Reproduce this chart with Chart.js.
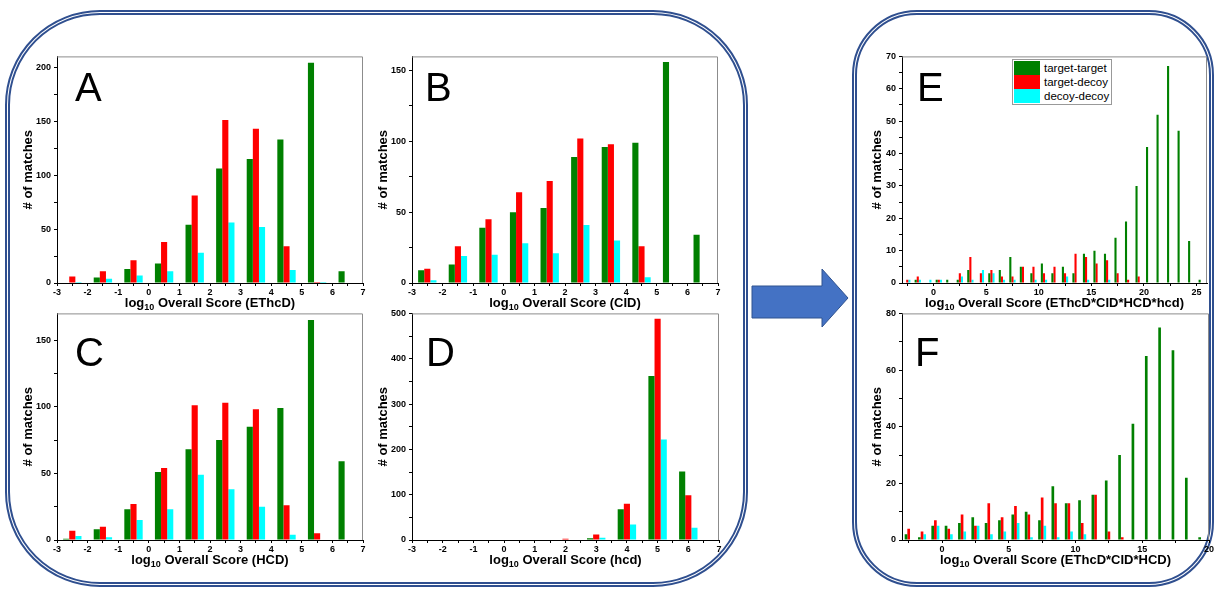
<!DOCTYPE html>
<html>
<head>
<meta charset="utf-8">
<script src="https://cdn.jsdelivr.net/npm/chart.js@4.4.1/dist/chart.umd.min.js"></script>
<style>
  body { margin: 0; background: #fff; }
  #page { position: relative; width: 1215px; height: 589px; overflow: hidden; font-family: "Liberation Sans", Arial, sans-serif; }
  .box { position: absolute; box-sizing: border-box; border: 5px double #2f4f8f; }
  canvas { position: absolute; }
  .letter { position: absolute; font-size: 40px; line-height: 40px; color: #000; }
  .xtitle { position: absolute; font-size: 13px; font-weight: bold; line-height: 14px; white-space: nowrap; transform: translateX(-50%); }
  .xtitle sub { font-size: 9px; vertical-align: -3px; }
  #legend { position: absolute; left: 1012px; top: 59px; width: 96px; border: 1px solid #999; background: #fff; padding: 1px; font-size: 11.5px; }
  #legend div { height: 14px; line-height: 14px; white-space: nowrap; }
  #legend span { display: inline-block; width: 26px; height: 14px; vertical-align: top; margin-right: 4px; }
</style>
</head>
<body>
<div id="page">
  <div class="box" style="left:5px;top:10px;width:743px;height:577px;border-radius:95px;"></div>
  <div class="box" style="left:852px;top:10px;width:362px;height:577px;border-radius:65px;"></div>
  <svg style="position:absolute;left:748px;top:262px" width="104" height="70">
    <polygon points="4,24 74,24 74,7 100,36 74,65 74,56 4,56" fill="#4472c4" stroke="#2f528f" stroke-width="1"/>
  </svg>
</div>
<script>
// bin centres
const binsAC = [-2.5, -1.5, -0.5, 0.5, 1.5, 2.5, 3.5, 4.5, 5.5, 6.5];
const binsD = [2, 3, 4, 5, 6];
const binsE = [-2.5, -1.5, -0.5, 0.5, 1.5, 2.5, 3.5, 4.5, 5.5, 6.5, 7.5, 8.5, 9.5, 10.5, 11.5, 12.5, 13.5, 14.5,
               15.5, 16.5, 17.5, 18.5, 19.5, 20.5, 21.5, 22.5, 23.5, 24.5, 25.5];
const binsF = [-2.5, -1.5, -0.5, 0.5, 1.5, 2.5, 3.5, 4.5, 5.5, 6.5, 7.5, 8.5, 9.5, 10.5, 11.5, 12.5, 13.5, 14.5,
               15.5, 16.5, 17.5, 18.5, 19.5];

// A: EThcD
const A_tt = [0, 5, 13, 18, 54, 106, 115, 133, 204, 11];
const A_td = [6, 11, 21, 38, 81, 151, 143, 34, 1, 0];
const A_dd = [1, 4, 7, 11, 28, 56, 52, 12, 1, 0];
// B: CID
const B_tt = [9, 13, 39, 50, 53, 89, 96, 99, 156, 34];
const B_td = [10, 26, 45, 64, 72, 102, 98, 26, 0, 0];
const B_dd = [2, 19, 20, 28, 21, 41, 30, 4, 0, 0];
// C: HCD
const C_tt = [1, 8, 23, 51, 68, 75, 85, 99, 165, 59];
const C_td = [7, 10, 27, 54, 101, 103, 98, 26, 5, 0];
const C_dd = [3, 2, 15, 23, 49, 38, 25, 4, 0, 0];
// D: hcd
const D_tt = [1, 4, 68, 362, 151];
const D_td = [3, 12, 80, 488, 99];
const D_dd = [0, 5, 34, 222, 27];
// E: EThcD*CID*HCD*hcd
const E_tt = [0, 1, 0, 1, 1, 1, 4, 0, 3, 4, 8, 5, 3, 6, 3, 5, 3, 9, 10, 9, 14, 19, 30, 42, 52, 67, 47, 13, 1];
const E_td = [1, 2, 0, 1, 0, 3, 8, 3, 4, 2, 2, 5, 5, 3, 5, 3, 9, 8, 6, 7, 3, 1, 2, 0, 0, 0, 0, 0, 0];
const E_dd = [1, 1, 1, 1, 0, 2, 1, 4, 3, 1, 1, 0, 1, 1, 0, 2, 0, 1, 0, 1, 0, 0, 0, 0, 0, 0, 0, 0, 0];
// F: EThcD*CID*HCD
const F_tt = [2, 1, 5, 5, 6, 8, 6, 7, 9, 10, 7, 19, 13, 14, 16, 21, 30, 41, 65, 75, 67, 22, 1];
const F_td = [4, 3, 7, 4, 9, 5, 13, 8, 12, 9, 15, 13, 13, 6, 16, 3, 1, 0, 0, 0, 0, 0, 0];
const F_dd = [0, 2, 5, 2, 3, 5, 2, 3, 6, 1, 5, 1, 3, 2, 0, 0, 0, 0, 0, 0, 0, 0, 0];

const seriesNames = ['target-target', 'target-decoy', 'decoy-decoy'];
const seriesColors = ['#008000', '#ff0000', '#00ffff'];

const framePlugin = {
    id: 'frame',
    afterDraw(chart) {
        const a = chart.chartArea, ctx = chart.ctx;
        ctx.save();
        ctx.strokeStyle = '#8c8c8c';
        ctx.lineWidth = 1;
        ctx.beginPath();
        ctx.moveTo(a.left, a.top + 0.5);
        ctx.lineTo(a.right - 0.5, a.top + 0.5);
        ctx.lineTo(a.right - 0.5, a.bottom);
        ctx.stroke();
        ctx.restore();
    }
};

function makeChart(p) {
    const page = document.getElementById('page');
    const PT = 8, PR = 10, XH = 18;
    const cv = document.createElement('canvas');
    const w = p.yw + (p.right - p.left) + PR;
    const h = PT + (p.bottom - p.top) + XH;
    cv.width = w; cv.height = h;
    cv.style.width = w + 'px'; cv.style.height = h + 'px';
    cv.style.left = (p.left - p.yw) + 'px';
    cv.style.top = (p.top - PT) + 'px';
    page.appendChild(cv);

    // chart.js sizes bars from the smallest gap between values or ticks,
    // so scale the percentage to keep each bar at 0.2 of a bin
    const gap = Math.min(p.xstep, 1);
    const datasets = p.series.map(function(vals, i) {
        return {
            label: seriesNames[i],
            data: vals.map(function(v, j) { return {x: p.bins[j], y: v}; }),
            backgroundColor: seriesColors[i],
            borderWidth: 0,
            categoryPercentage: 0.6 / gap,
            barPercentage: 1.0
        };
    });

    const tickFont = {family: '"Liberation Sans", Arial', size: 9, weight: 'bold'};
    new Chart(cv, {
        type: 'bar',
        data: {datasets: datasets},
        options: {
            responsive: false,
            animation: false,
            devicePixelRatio: 1,
            layout: {padding: {top: PT, right: PR, left: 0, bottom: 0}},
            plugins: {legend: {display: false}, tooltip: {enabled: false}},
            scales: {
                x: {
                    type: 'linear',
                    min: p.xmin, max: p.xmax,
                    offset: false,
                    grid: {display: true, offset: false, drawOnChartArea: false, drawTicks: true, tickLength: 3, color: '#000'},
                    border: {display: true, color: '#000', width: 1},
                    ticks: {
                        stepSize: p.xstep, includeBounds: false, autoSkip: false, maxRotation: 0,
                        padding: 1, color: '#000', font: tickFont,
                        callback: function(v) { return Math.abs(v / p.xmajor - Math.round(v / p.xmajor)) < 1e-6 ? v : ''; }
                    },
                    afterFit: function(s) { s.height = XH; }
                },
                y: {
                    min: 0, max: p.ymax,
                    grid: {display: true, drawOnChartArea: false, drawTicks: true, tickLength: 3, color: '#000'},
                    border: {display: true, color: '#000', width: 1},
                    ticks: {
                        stepSize: p.ystep, includeBounds: false, autoSkip: false,
                        padding: 3, color: '#000', font: tickFont,
                        callback: function(v) { return v % p.ymajor === 0 ? v : ''; }
                    },
                    title: {display: true, text: '# of matches', color: '#000', padding: {top: 2, bottom: 0},
                            font: {family: '"Liberation Sans", Arial', size: 13, weight: 'bold'}},
                    afterFit: function(s) { s.width = p.yw; }
                }
            }
        },
        plugins: [framePlugin]
    });

    const t = document.createElement('div');
    t.className = 'xtitle';
    t.innerHTML = 'log<sub>10</sub> Overall Score (' + p.xname + ')';
    t.style.left = ((p.left + p.right) / 2) + 'px';
    t.style.top = (p.bottom + 13) + 'px';
    page.appendChild(t);

    const L = document.createElement('div');
    L.className = 'letter';
    L.textContent = p.letter;
    L.style.left = p.lx + 'px';
    L.style.top = p.ly + 'px';
    page.appendChild(L);
}

makeChart({letter: 'A', lx: 75, ly: 67, left: 57, right: 363, top: 56, bottom: 283, yw: 38,
           xmin: -3, xmax: 7, xstep: 0.5, xmajor: 1, ymax: 210, ystep: 25, ymajor: 50,
           bins: binsAC, series: [A_tt, A_td, A_dd], xname: 'EThcD'});
makeChart({letter: 'B', lx: 425, ly: 67, left: 412, right: 718, top: 56, bottom: 283, yw: 38,
           xmin: -3, xmax: 7, xstep: 0.5, xmajor: 1, ymax: 160, ystep: 25, ymajor: 50,
           bins: binsAC, series: [B_tt, B_td, B_dd], xname: 'CID'});
makeChart({letter: 'C', lx: 75, ly: 332, left: 57, right: 363, top: 313, bottom: 540, yw: 38,
           xmin: -3, xmax: 7, xstep: 0.5, xmajor: 1, ymax: 170, ystep: 25, ymajor: 50,
           bins: binsAC, series: [C_tt, C_td, C_dd], xname: 'HCD'});
makeChart({letter: 'D', lx: 426, ly: 332, left: 412, right: 719, top: 313, bottom: 540, yw: 38,
           xmin: -3, xmax: 7, xstep: 0.5, xmajor: 1, ymax: 500, ystep: 50, ymajor: 100,
           bins: binsD, series: [D_tt, D_td, D_dd], xname: 'hcd'});
makeChart({letter: 'E', lx: 917, ly: 67, left: 902, right: 1207, top: 56, bottom: 283, yw: 34,
           xmin: -3, xmax: 26, xstep: 2.5, xmajor: 5, ymax: 70, ystep: 5, ymajor: 10,
           bins: binsE, series: [E_tt, E_td, E_dd], xname: 'EThcD*CID*HCD*hcd'});
makeChart({letter: 'F', lx: 915, ly: 332, left: 902, right: 1209, top: 313, bottom: 540, yw: 34,
           xmin: -3, xmax: 20, xstep: 2.5, xmajor: 5, ymax: 80, ystep: 10, ymajor: 20,
           bins: binsF, series: [F_tt, F_td, F_dd], xname: 'EThcD*CID*HCD'});

// legend for panel E
const lg = document.createElement('div');
lg.id = 'legend';
seriesNames.forEach(function(n, i) {
    const row = document.createElement('div');
    row.innerHTML = '<span style="background:' + seriesColors[i] + '"></span>' + n;
    lg.appendChild(row);
});
document.getElementById('page').appendChild(lg);
</script>
</body>
</html>
